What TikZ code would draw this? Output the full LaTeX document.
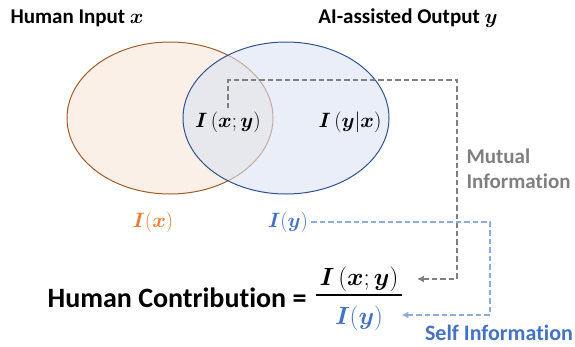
\documentclass[tikz,border=0pt]{standalone}
\usepackage{amsmath,amssymb}
\usepackage{fontspec}
\setmainfont{Carlito}[Ligatures=NoCommon]
\usetikzlibrary{arrows.meta,positioning,calc}
\definecolor{InputFill}{RGB}{251,240,232}
\definecolor{InputLine}{RGB}{160,90,40}
\definecolor{OutputFill}{RGB}{218,227,243}
\definecolor{OutputLine}{RGB}{47,82,143}
\definecolor{InfoOrange}{RGB}{237,125,49}
\definecolor{InfoBlue}{RGB}{68,114,196}
\definecolor{LinkBlue}{RGB}{143,170,220}
\definecolor{LinkGray}{RGB}{127,127,127}

\begin{document}
\begin{tikzpicture}[x=1pt, y=-1pt,
    heading/.style={font=\bfseries\fontsize{21}{25}\selectfont},
    term/.style={font=\fontsize{20}{24}\selectfont},
    bigterm/.style={font=\fontsize{26}{30}\selectfont},
    link/.style={dash pattern=on 5.5pt off 3pt, line width=1.6pt, -{Latex[length=7pt,width=7pt]}}]
        \useasboundingbox (0,0) rectangle (575,346);
        % the two sets
        \filldraw[fill=InputFill, draw=InputLine, line width=1pt] (170,118) ellipse [x radius=103, y radius=76];
        \filldraw[fill=OutputFill, fill opacity=0.6, draw=OutputLine, line width=1pt] (286,118) ellipse [x radius=103, y radius=76];
        \node[heading, anchor=west] (hin) at (7,18) {Human Input $\boldsymbol{x}$};
        \node[heading] (aout) at (408,18) {AI-assisted Output $\boldsymbol{y}$};
        \node[term] (mi) at (228,122) {$\boldsymbol{I}\,(\boldsymbol{x};\boldsymbol{y})$};
        \node[term] (ce) at (350,122) {$\boldsymbol{I}\,(\boldsymbol{y}|\boldsymbol{x})$};
        \node[term, text=InfoOrange] (ix) at (153,222) {$\boldsymbol{I}(\boldsymbol{x})$};
        \node[term, text=InfoBlue] (iy) at (288,222) {$\boldsymbol{I}(\boldsymbol{y})$};
        % the ratio
        \node[font=\bfseries\fontsize{28}{32}\selectfont] (hc) at (177,298) {Human Contribution =};
        \node[bigterm] (num) at (359,279) {$\boldsymbol{I}\,(\boldsymbol{x};\boldsymbol{y})$};
        \node[bigterm, text=InfoBlue] (den) at (359,318) {$\boldsymbol{I}(\boldsymbol{y})$};
        \draw[line width=2pt] (num.south west) -- (num.south east);
        % links
        \coordinate (mcorner) at (457,80);
        \coordinate (scorner) at (490,315);
        \draw[link, LinkGray] (mi.north) |- (mcorner) |- ([xshift=15pt]num.east);
        \draw[link, LinkBlue] (iy.east) -| (scorner) -- ([xshift=15pt]scorner -| den.east);
        \node[heading, text=LinkGray, anchor=west, align=left] (milabel) at (463,169) {Mutual\\Information};
        \node[heading, font=\bfseries\fontsize{22}{26}\selectfont, text=InfoBlue] (silabel) at (499,333) {Self Information};
\end{tikzpicture}
\end{document}
